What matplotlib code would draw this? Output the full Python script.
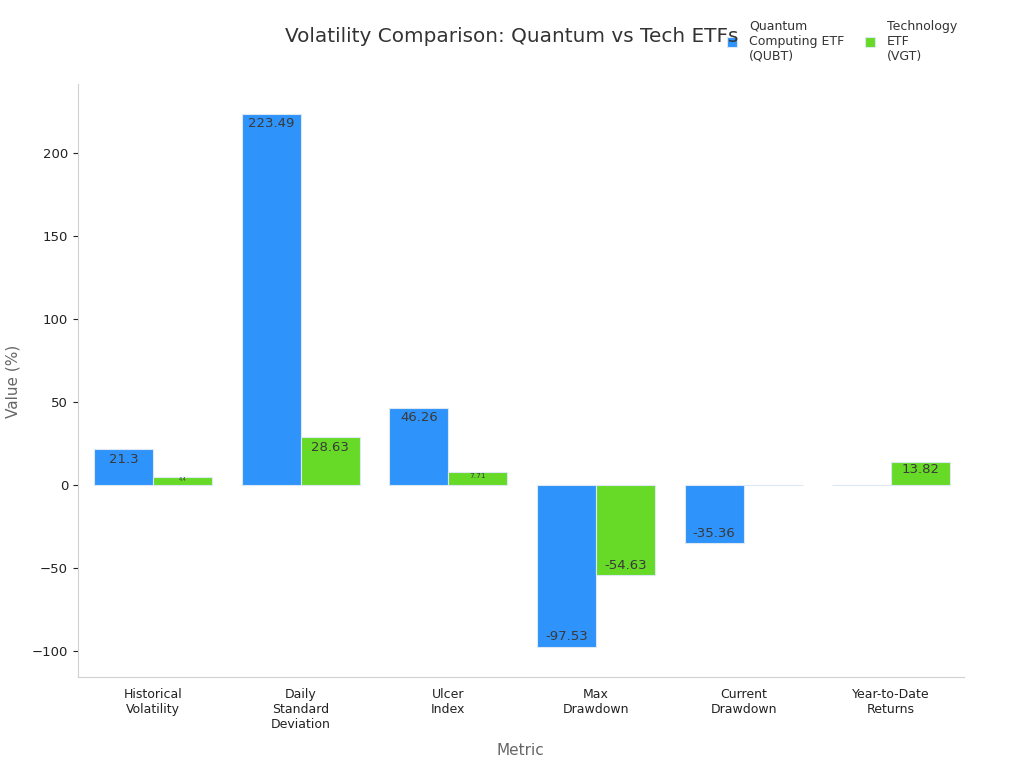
import matplotlib
matplotlib.use('Agg')
import matplotlib.pyplot as plt
import numpy as np

# data
metrics = ['Historical\nVolatility', 'Daily\nStandard\nDeviation', 'Ulcer\nIndex',
           'Max\nDrawdown', 'Current\nDrawdown', 'Year-to-Date\nReturns']
qubt = [21.3, 223.49, 46.26, -97.53, -35.36, -0.3]
vgt = [4.4, 28.63, 7.71, -54.63, 0.0, 13.82]
series_names = ['Quantum\nComputing ETF\n(QUBT)', 'Technology\nETF\n(VGT)']
colors = ['#2E93FA', '#66DA26']

plt.rcParams['font.family'] = ['DejaVu Sans']

fig = plt.figure(figsize=(10.24, 7.68), dpi=100)
ax = fig.add_axes([0.076, 0.118, 0.865, 0.772])

x = np.arange(len(metrics))
w = 0.4
b1 = ax.bar(x - w / 2, qubt, w, color=colors[0], edgecolor='#dde8f5', linewidth=0.8, label=series_names[0])
b2 = ax.bar(x + w / 2, vgt, w, color=colors[1], edgecolor='#dde8f5', linewidth=0.8, label=series_names[1])

ax.set_ylim(-116, 241)
ax.set_xlim(-0.51, 5.49)

# value labels inside bars, shrunk for short bars
for bars, vals in [(b1, qubt), (b2, vgt)]:
    for rect, v in zip(bars, vals):
        if v == 0 or abs(v) < 1:
            continue
        h = abs(v)
        fs = 9.5 if h > 12 else max(3.5, h * 0.7)
        off = min(6, h * 0.35)
        cx = rect.get_x() + rect.get_width() / 2
        ty = v - off if v > 0 else v + off
        ax.text(cx, ty, f'{v:g}', ha='center', va='center', fontsize=fs, color='#3a3a3a')

ax.set_xticks(x)
ax.set_xticklabels(metrics, fontsize=9, color='#222222')
ax.tick_params(axis='y', labelsize=9.5, colors='#222222')
ax.tick_params(axis='x', length=0, pad=8)
ax.set_yticks([-100, -50, 0, 50, 100, 150, 200])
ax.set_yticklabels(['\u2212100', '\u221250', '0', '50', '100', '150', '200'])

for s in ['top', 'right']:
    ax.spines[s].set_visible(False)
for s in ['left', 'bottom']:
    ax.spines[s].set_color('#d0d0d0')

ax.set_xlabel('Metric', fontsize=11, color='#666666', labelpad=8)
ax.set_ylabel('Value (%)', fontsize=11, color='#666666', labelpad=8)

fig.suptitle('Volatility Comparison: Quantum vs Tech ETFs', fontsize=14.4, color='#333333', x=0.5, y=0.965)

leg = ax.legend(loc='upper left', bbox_to_anchor=(0.72, 1.128), ncol=2, frameon=False, fontsize=9,
                handlelength=0.8, handleheight=0.8, handletextpad=1.0, columnspacing=1.6, labelspacing=0.3)
for t in leg.get_texts():
    t.set_color('#333333')

fig.savefig('out.png', dpi=100)
